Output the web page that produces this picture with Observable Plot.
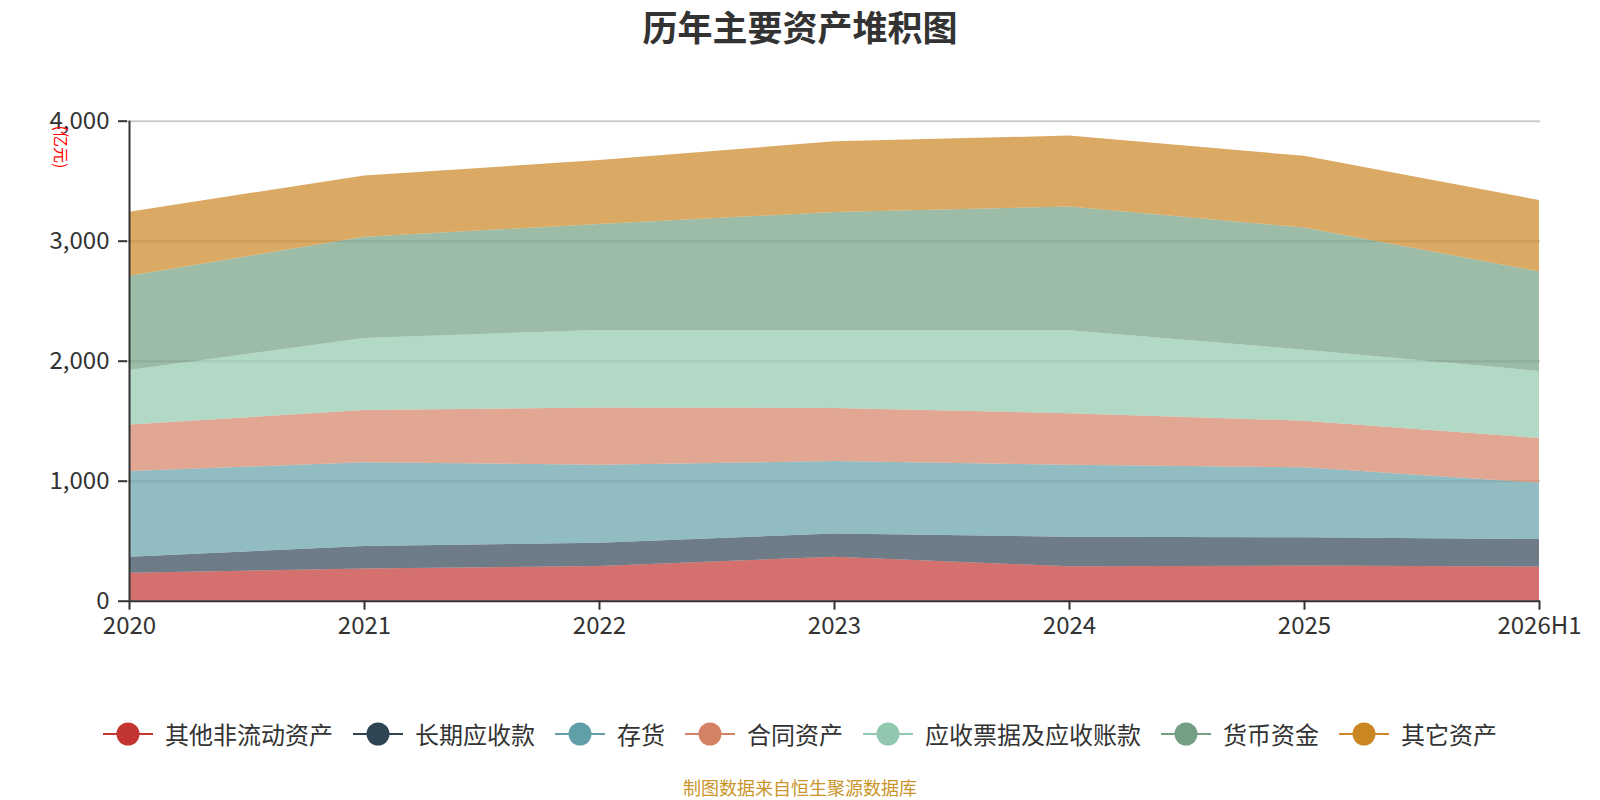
<!DOCTYPE html>
<html>
<head>
<meta charset="utf-8">
<script src="https://cdn.jsdelivr.net/npm/d3@7"></script>
<script src="https://cdn.jsdelivr.net/npm/@observablehq/plot@0.6"></script>
<style>
  body { margin: 0; background: #fff; font-family: "Noto Sans CJK SC", "Noto Sans", sans-serif; }
  #wrap { position: relative; width: 1600px; height: 800px; overflow: hidden; background: #fff; }
  #title { position: absolute; top: 1px; left: 0; width: 1600px; text-align: center; font-size: 35px; font-weight: bold; color: #333; line-height: 50px; z-index: 2; }
  #chart { position: absolute; top: 0; left: 0; z-index: 1; }
  #unit { position: absolute; left: 41px; top: 138px; font-size: 16px; color: #ff0000; transform: rotate(90deg); transform-origin: center; white-space: nowrap; line-height: 18px; z-index: 2; }
  #legend { position: absolute; top: 716px; left: 0; width: 1600px; display: flex; justify-content: center; gap: 20px; font-size: 24px; color: #333; line-height: 36px; z-index: 2; }
  .item { display: flex; align-items: center; gap: 12px; }
  #footer { position: absolute; top: 777px; left: 0; width: 1600px; text-align: center; font-size: 18px; color: #c9952b; line-height: 20px; z-index: 2; }
</style>
</head>
<body>
<div id="wrap">
  <div id="title"></div>
  <div id="chart"></div>
  <div id="unit">(亿元)</div>
  <div id="legend"></div>
  <div id="footer">制图数据来自恒生聚源数据库</div>
</div>
<script>
const titleText = "历年主要资产堆积图";
const years = ["2020", "2021", "2022", "2023", "2024", "2025", "2026H1"];
const seriesNames = ["其他非流动资产", "长期应收款", "存货", "合同资产", "应收票据及应收账款", "货币资金", "其它资产"];
const colors = ["#c23531", "#2f4554", "#61a0a8", "#d48265", "#91c7ae", "#749f83", "#ca8622"];
const otherNonCurrent = [233, 269, 289, 367, 287, 293, 284];
const longTermReceivables = [134, 187, 194, 194, 245, 236, 230];
const inventory = [714, 697, 650, 603, 600, 583, 469];
const contractAssets = [388, 436, 478, 442, 431, 388, 373];
const receivables = [453, 600, 645, 650, 690, 592, 558];
const cash = [786, 844, 883, 983, 1031, 1017, 830];
const otherAssets = [534, 511, 533, 589, 592, 598, 595];
const yTicks = [0, 1000, 2000, 3000, 4000];

const seriesValues = [otherNonCurrent, longTermReceivables, inventory, contractAssets, receivables, cash, otherAssets];
const rows = [];
seriesNames.forEach((name, si) => {
  years.forEach((yr, i) => rows.push({series: name, year: yr, value: seriesValues[si][i]}));
});

document.getElementById("title").textContent = titleText;

const W = 1600, H = 680;
const chart = Plot.plot({
  width: W,
  height: H,
  marginTop: 120.7,
  marginBottom: H - 600.7,
  marginLeft: 127,
  marginRight: 60,
  style: {fontFamily: '"Noto Sans CJK SC", "Noto Sans", sans-serif', fontSize: "24px", color: "#333", background: "transparent"},
  x: {type: "point", domain: years, padding: 0, label: null},
  y: {domain: [0, 4000], label: null},
  color: {domain: seriesNames, range: colors},
  marks: [
    Plot.ruleY(yTicks.filter(d => d > 0), {stroke: "#cccccc", strokeWidth: 2}),
    Plot.areaY(rows, {x: "year", y: "value", fill: "series", z: "series", fillOpacity: 0.7, order: seriesNames, curve: "linear"}),
    Plot.axisY({ticks: yTicks, tickFormat: d3.format(","), tickSize: 9, tickPadding: 9, stroke: "#333", strokeWidth: 2, fill: "#333", fontSize: 24, label: null}),
    Plot.axisX({tickSize: 9, tickPadding: 7, stroke: "#333", strokeWidth: 2, fill: "#333", fontSize: 24, label: null}),
    Plot.ruleY([0], {stroke: "#333", strokeWidth: 2}),
    Plot.ruleX([years[0]], {y1: 0, y2: 4000, stroke: "#333", strokeWidth: 2})
  ]
});
document.getElementById("chart").appendChild(chart);

const legend = document.getElementById("legend");
seriesNames.forEach((name, i) => {
  const item = document.createElement("div");
  item.className = "item";
  item.innerHTML = `<svg width="50" height="26"><line x1="0" y1="13" x2="50" y2="13" stroke="${colors[i]}" stroke-width="2"/><circle cx="25" cy="13" r="11.5" fill="${colors[i]}"/></svg><span>${name}</span>`;
  legend.appendChild(item);
});
</script>
</body>
</html>
